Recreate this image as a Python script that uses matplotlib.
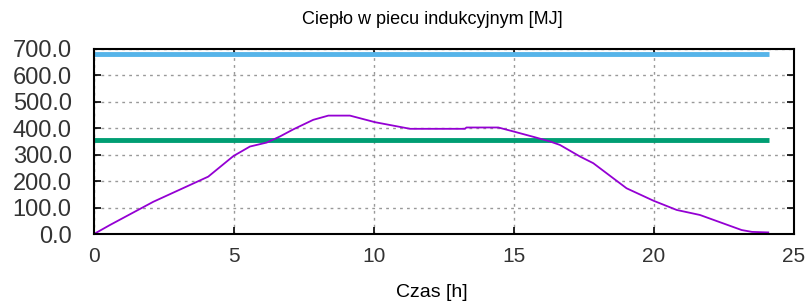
import matplotlib
matplotlib.use("Agg")
import matplotlib.pyplot as plt

# czas [h] i cieplo [MJ]
czas = [0, 0.57, 2.12, 4.08, 4.98, 5.57, 6.17, 6.64, 7.12, 7.83, 8.37, 9.14,
        10.04, 11.29, 13.25, 13.3, 14.44, 14.98, 15.75, 16.29, 16.64, 17.36,
        17.83, 19.02, 19.98, 20.81, 21.64, 23.13, 23.5, 24.08]
cieplo = [0, 34, 122, 217, 295, 331, 346, 369, 396, 432, 448, 448,
          423, 398, 398, 403, 403, 388, 366, 350, 337, 293,
          268, 173, 126, 91, 72, 15, 8, 6]

limit_gorny = 682
limit_dolny = 357
zakres_linii = [0, 24.1]

fnt = ["Liberation Sans", "DejaVu Sans"]

fig = plt.figure(figsize=(8.08, 3.03), dpi=100)
ax = fig.add_axes([0.1163, 0.2277, 0.8664, 0.6106])

ax.plot(zakres_linii, [limit_gorny] * 2, color="#56b4e9", linewidth=3.5, solid_capstyle="butt")
ax.plot(zakres_linii, [limit_dolny] * 2, color="#009e73", linewidth=3.5, solid_capstyle="butt")
ax.plot(czas, cieplo, color="#9400d3", linewidth=1.3)

ax.set_xlim(0, 25)
ax.set_ylim(0, 700)
ax.set_xticks([0, 5, 10, 15, 20, 25])
ax.set_yticks(range(0, 701, 100))
ax.set_yticklabels([f"{v:.1f}" for v in range(0, 701, 100)],
                   fontsize=17, family=fnt, color="#333333")
ax.set_xticklabels(["0", "5", "10", "15", "20", "25"],
                   fontsize=15, family=fnt, color="#333333")
ax.tick_params(direction="in", top=True, right=True, length=5, width=1.2)
ax.tick_params(axis="x", pad=9)
ax.tick_params(axis="y", pad=16)

ax.grid(color="#999999", linestyle=(0, (2, 3)), linewidth=1)
for s in ax.spines.values():
    s.set_linewidth(1.5)

fig.text(0.535, 0.934, "Ciepło w piecu indukcyjnym [MJ]", fontsize=13, family=fnt,
         ha="center", va="center")
fig.text(0.535, 0.035, "Czas [h]", fontsize=14, family=fnt, ha="center", va="center")

plt.savefig("out.png", dpi=100)
